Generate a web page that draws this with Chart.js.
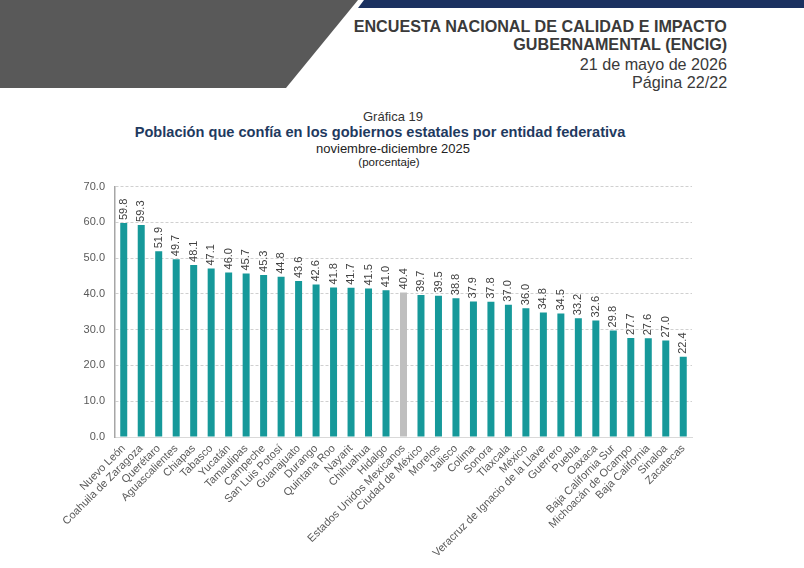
<!DOCTYPE html>
<html lang="es">
<head>
<meta charset="utf-8">
<title>Gráfica 19</title>
<script src="https://cdn.jsdelivr.net/npm/chart.js@4.4.1/dist/chart.umd.min.js"></script>
<style>
  html, body { margin: 0; padding: 0; background: #fff; }
  body { width: 804px; height: 568px; position: relative; overflow: hidden; font-family: "Liberation Sans", Arial, sans-serif; }
  .grey { position: absolute; left: 0; top: 0; width: 360px; height: 88px; background: #595959;
          clip-path: polygon(0 0, 358px 0, 286px 88px, 0 88px); }
  .navy { position: absolute; left: 355px; top: 0; width: 449px; height: 8px; background: #1b3160;
          clip-path: polygon(9px 0, 449px 0, 449px 8px, 3px 8px); }
  .head { position: absolute; right: 77px; text-align: right; color: #3a3a3a; white-space: nowrap;
          transform: scaleX(0.95); transform-origin: right center; }
  .h1 { font-weight: bold; font-size: 17px; }
  .h2 { font-size: 17px; }
  .ttl { position: absolute; left: 0; text-align: center; white-space: nowrap; }
  #wrap { position: absolute; left: 60px; top: 170px; width: 650px; height: 398px; }
</style>
</head>
<body>
<div class="grey"></div>
<div class="navy"></div>
<div class="head h1" style="top:17px">ENCUESTA NACIONAL DE CALIDAD E IMPACTO</div>
<div class="head h1" style="top:35px">GUBERNAMENTAL (ENCIG)</div>
<div class="head h2" style="top:55px">21 de mayo de 2026</div>
<div class="head h2" style="top:73px">Página 22/22</div>

<div class="ttl" style="top:109px; width:786px; font-size:13px; color:#333">Gráfica 19</div>
<div class="ttl" style="top:124px; width:760px; font-size:14.6px; font-weight:bold; color:#1f3a5f">Población que confía en los gobiernos estatales por entidad federativa</div>
<div class="ttl" style="top:141px; width:786px; font-size:13px; color:#222">noviembre-diciembre 2025</div>
<div class="ttl" style="top:156px; width:778px; font-size:11.5px; color:#222">(porcentaje)</div>

<div id="wrap"><canvas id="chart" width="650" height="398"></canvas></div>

<script>
// Data
const entidades = [
  'Nuevo León', 'Coahuila de Zaragoza', 'Querétaro', 'Aguascalientes', 'Chiapas', 'Tabasco',
  'Yucatán', 'Tamaulipas', 'Campeche', 'San Luis Potosí', 'Guanajuato', 'Durango',
  'Quintana Roo', 'Nayarit', 'Chihuahua', 'Hidalgo', 'Estados Unidos Mexicanos',
  'Ciudad de México', 'Morelos', 'Jalisco', 'Colima', 'Sonora', 'Tlaxcala', 'México',
  'Veracruz de Ignacio de la Llave', 'Guerrero', 'Puebla', 'Oaxaca', 'Baja California Sur',
  'Michoacán de Ocampo', 'Baja California', 'Sinaloa', 'Zacatecas'
];
const porcentajes = [
  59.8, 59.3, 51.9, 49.7, 48.1, 47.1, 46.0, 45.7, 45.3, 44.8, 43.6, 42.6, 41.8, 41.7, 41.5, 41.0,
  40.4, 39.7, 39.5, 38.8, 37.9, 37.8, 37.0, 36.0, 34.8, 34.5, 33.2, 32.6, 29.8, 27.7, 27.6, 27.0, 22.4
];
const yTicks = [0, 10, 20, 30, 40, 50, 60, 70];
const NACIONAL = 'Estados Unidos Mexicanos';

const TEAL = '#16999a';
const GREY = '#bfbfbf';

// Value labels drawn above each bar, rotated
const valueLabels = {
  id: 'valueLabels',
  afterDatasetsDraw(chart) {
    const ctx = chart.ctx;
    const meta = chart.getDatasetMeta(0);
    ctx.save();
    ctx.font = '11px "Liberation Sans", Arial, sans-serif';
    ctx.fillStyle = '#404040';
    ctx.textAlign = 'left';
    ctx.textBaseline = 'middle';
    meta.data.forEach((bar, i) => {
      ctx.save();
      ctx.translate(bar.x, bar.y - 3);
      ctx.rotate(-Math.PI / 2);
      ctx.fillText(porcentajes[i].toFixed(1), 0, 0);
      ctx.restore();
    });
    ctx.restore();
  }
};

new Chart(document.getElementById('chart'), {
  type: 'bar',
  data: {
    labels: entidades,
    datasets: [{
      data: porcentajes,
      backgroundColor: entidades.map(e => e === NACIONAL ? GREY : TEAL),
      barPercentage: 0.8,
      categoryPercentage: 0.5
    }]
  },
  options: {
    responsive: false,
    animation: false,
    events: [],
    layout: { padding: { top: 15, right: 18, left: 0, bottom: 0 } },
    plugins: { legend: { display: false }, tooltip: { enabled: false } },
    scales: {
      x: {
        grid: { display: false, drawTicks: false },
        border: { display: true, color: '#d9d9d9', width: 1 },
        ticks: {
          autoSkip: false, maxRotation: 45, minRotation: 45, padding: 5,
          color: '#595959', font: { family: '"Liberation Sans", Arial, sans-serif', size: 11 }
        },
        afterFit(scale) { scale.height = 131; }
      },
      y: {
        min: 0, max: 70,
        afterBuildTicks(scale) { scale.ticks = yTicks.map(v => ({ value: v })); },
        grid: {
          drawTicks: false,
          color: ctx => ctx.tick && ctx.tick.value === 0 ? 'rgba(0,0,0,0)' : '#d0d0d0'
        },
        border: { display: true, color: '#a6a6a6', width: 1.5, dash: [3, 2] },
        ticks: {
          padding: 10, color: '#595959',
          font: { family: '"Liberation Sans", Arial, sans-serif', size: 11 },
          callback: v => v.toFixed(1)
        },
        afterFit(scale) { scale.width = 55; }
      }
    }
  },
  plugins: [valueLabels]
});
</script>
</body>
</html>
